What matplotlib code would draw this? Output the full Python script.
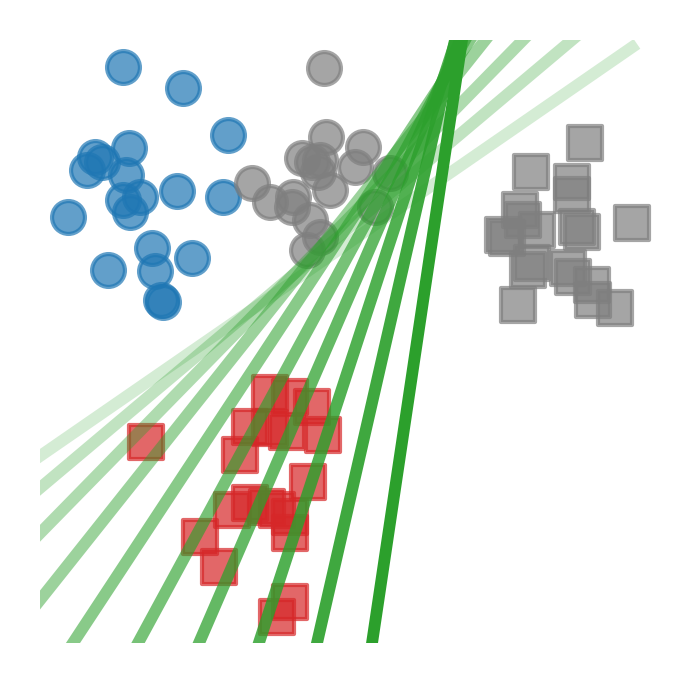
import numpy as np
import matplotlib
matplotlib.use("Agg")
import matplotlib.pyplot as plt

# class A (blue circles)
blue_x = [1.34, 2.31, 3.03, 1.44, 0.89, 1.00, 0.76, 1.39, 2.21, 1.61,
          1.34, 1.45, 0.45, 2.95, 1.81, 2.45, 1.10, 1.85, 1.98, 1.95]
blue_y = [9.55, 9.20, 8.42, 8.21, 8.06, 7.98, 7.84, 7.76, 7.50, 7.40,
          7.35, 7.15, 7.06, 7.40, 6.55, 6.38, 6.19, 6.17, 5.65, 5.69]

# unlabeled circles (gray)
gcirc_x = [4.58, 4.61, 5.21, 4.23, 4.39, 4.52, 4.48, 5.08, 5.65, 3.42,
           4.68, 3.71, 4.08, 4.06, 4.35, 5.40, 4.52, 4.31]
gcirc_y = [9.54, 8.39, 8.23, 8.04, 7.98, 8.01, 7.81, 7.89, 7.79, 7.63,
           7.51, 7.31, 7.40, 7.23, 7.01, 7.23, 6.73, 6.52]

# unlabeled squares (gray)
gsq_x = [8.79, 7.92, 8.58, 8.58, 7.74, 7.79, 9.55, 8.66, 8.74, 7.47,
         7.53, 8.02, 7.94, 7.87, 8.52, 8.60, 8.90, 8.92, 9.27, 7.71]
gsq_y = [8.29, 7.81, 7.65, 7.43, 7.18, 7.01, 6.97, 6.90, 6.82, 6.77,
         6.72, 6.85, 6.30, 6.19, 6.22, 6.07, 5.94, 5.69, 5.56, 5.61]

# class B (red squares)
red_x = [3.71, 4.03, 4.39, 3.39, 3.71, 3.98, 4.56, 3.23, 4.32, 3.39,
         3.10, 3.66, 3.82, 4.03, 4.03, 2.58, 2.89, 4.03, 3.82, 1.71]
red_y = [4.15, 4.08, 3.91, 3.58, 3.57, 3.50, 3.45, 3.12, 2.67, 2.32,
         2.21, 2.26, 2.21, 2.09, 1.82, 1.76, 1.26, 0.68, 0.43, 3.33]

# decision boundaries y = a + b*x, one per iteration
line_a = [3.10, 2.57, 1.82, 0.713, -0.831, -2.998, -6.094, -11.11, -20.07, -36.91]
line_b = [0.710, 0.866, 1.050, 1.293, 1.562, 1.896, 2.376, 3.147, 4.492, 6.892]

fig = plt.figure(figsize=(7, 6.84), dpi=100)
ax = fig.add_axes([40 / 700, 41 / 684, 620 / 700, 603 / 684])

all_x = blue_x + gcirc_x + gsq_x + red_x
xs = np.linspace(-1, max(all_x), 200)
alphas = np.linspace(0.2, 1.0, len(line_a))
for a, b, al in zip(line_a, line_b, alphas):
    ax.plot(xs, a + b * xs, color='#2ca02c', alpha=al, lw=8.5)

ax.scatter(blue_x, blue_y, s=560, marker='o', color='#1f77b4', alpha=0.7, linewidths=3)
ax.scatter(gcirc_x, gcirc_y, s=560, marker='o', color='#7f7f7f', alpha=0.7, linewidths=3)
ax.scatter(gsq_x, gsq_y, s=580, marker='s', color='#7f7f7f', alpha=0.7, linewidths=3)
ax.scatter(red_x, red_y, s=580, marker='s', color='#d62728', alpha=0.7, linewidths=3)

ax.set_xlim(0, 10)
ax.set_ylim(0, 10)
ax.axis('off')

fig.savefig("out.png", dpi=100)
